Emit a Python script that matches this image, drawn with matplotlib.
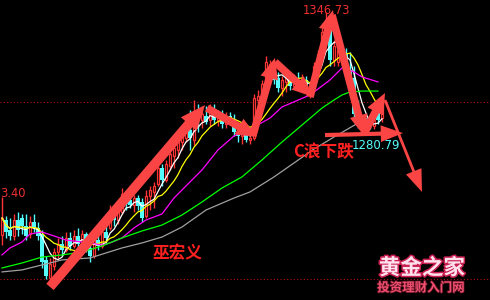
import numpy as np
import pandas as pd
import matplotlib
matplotlib.use("Agg")
import matplotlib.pyplot as plt
import matplotlib.patheffects as pe

# ---------------- Data ----------------
opens = [1222.0, 1230.4, 1224.8, 1221.5, 1230.4, 1231.5, 1227.1, 1222.6, 1229.3, 1226.0,
         1222.6, 1208.1, 1198.0, 1204.7, 1212.5, 1217.0, 1213.7, 1220.4, 1215.9, 1221.5,
         1217.0, 1222.6, 1214.8, 1210.3, 1219.2, 1215.9, 1223.7, 1226.0, 1234.9, 1230.4,
         1234.9, 1243.8, 1241.6, 1238.8, 1242.7, 1240.5, 1232.7, 1243.8, 1246.1, 1250.5,
         1259.5, 1252.8, 1260.6, 1266.2, 1269.6, 1274.0, 1276.3, 1280.7, 1275.1, 1290.8,
         1286.3, 1288.6, 1286.3, 1291.9, 1286.3, 1289.7, 1284.1, 1288.6, 1286.3, 1279.6,
         1277.4, 1278.5, 1275.1, 1276.3, 1297.5, 1297.5, 1306.4, 1308.7, 1316.5, 1309.8,
         1304.2, 1307.6, 1309.8, 1305.3, 1308.7, 1306.4, 1308.7, 1300.9, 1305.3, 1316.5,
         1323.2, 1335.5, 1341.1, 1319.9, 1318.7, 1324.3, 1323.2, 1314.3, 1309.8, 1290.8,
         1284.1, 1281.9, 1284.1, 1283.0, 1290.8, 1287.4]
highs = [1243.4, 1232.7, 1231.5, 1233.8, 1234.9, 1233.8, 1233.8, 1232.7, 1233.8, 1229.3,
         1224.8, 1210.3, 1209.2, 1214.8, 1220.4, 1221.5, 1223.7, 1223.7, 1224.8, 1226.0,
         1224.8, 1223.7, 1219.2, 1221.5, 1223.7, 1226.0, 1228.2, 1238.8, 1238.8, 1237.1,
         1248.3, 1247.2, 1246.1, 1244.4, 1244.4, 1242.7, 1247.2, 1249.4, 1251.7, 1261.7,
         1261.7, 1264.0, 1269.6, 1272.9, 1275.1, 1280.7, 1283.0, 1291.9, 1297.5, 1295.3,
         1293.0, 1294.2, 1295.3, 1295.3, 1291.9, 1291.9, 1290.8, 1290.8, 1289.7, 1283.0,
         1280.7, 1281.9, 1280.7, 1300.9, 1303.1, 1308.7, 1322.1, 1319.9, 1318.7, 1313.2,
         1310.9, 1312.0, 1313.2, 1312.0, 1313.2, 1312.0, 1310.9, 1307.6, 1318.7, 1325.5,
         1337.8, 1346.73, 1345.6, 1331.0, 1328.8, 1327.7, 1326.6, 1324.3, 1316.5, 1297.5,
         1288.6, 1287.4, 1287.4, 1288.6, 1293.0, 1296.4]
lows = [1216.4, 1220.4, 1219.2, 1219.2, 1221.5, 1222.6, 1219.2, 1220.4, 1223.7, 1219.2,
        1203.6, 1197.4, 1195.8, 1202.5, 1209.2, 1210.3, 1212.5, 1213.7, 1214.8, 1214.8,
        1215.9, 1212.5, 1206.9, 1209.2, 1213.7, 1214.8, 1217.0, 1224.8, 1227.1, 1228.2,
        1233.8, 1236.0, 1237.1, 1234.9, 1236.0, 1229.3, 1231.5, 1236.0, 1237.1, 1249.4,
        1249.4, 1251.7, 1258.4, 1259.5, 1265.1, 1269.6, 1274.0, 1269.6, 1272.3, 1279.6,
        1281.9, 1284.1, 1283.0, 1284.1, 1283.0, 1281.9, 1281.9, 1284.1, 1277.4, 1274.0,
        1272.9, 1274.0, 1272.9, 1275.1, 1290.8, 1295.3, 1305.3, 1306.4, 1306.4, 1302.0,
        1299.7, 1302.0, 1303.1, 1303.1, 1304.2, 1303.1, 1302.0, 1298.6, 1304.2, 1314.3,
        1321.0, 1331.0, 1316.5, 1316.5, 1316.5, 1318.7, 1312.0, 1307.6, 1286.3, 1281.9,
        1280.79, 1281.0, 1281.2, 1281.4, 1284.1, 1285.2]
closes = [1231.5, 1223.7, 1221.5, 1230.4, 1224.8, 1227.1, 1221.5, 1229.3, 1226.0, 1221.5,
          1206.9, 1199.1, 1205.8, 1212.5, 1217.0, 1213.7, 1220.4, 1215.9, 1221.5, 1217.0,
          1222.6, 1214.8, 1210.3, 1219.2, 1215.9, 1223.7, 1220.4, 1236.0, 1230.4, 1234.9,
          1245.0, 1239.4, 1238.8, 1242.7, 1238.3, 1231.5, 1243.8, 1247.2, 1249.4, 1259.5,
          1252.8, 1261.7, 1267.3, 1270.7, 1274.0, 1277.4, 1280.7, 1276.3, 1290.8, 1286.3,
          1289.7, 1285.2, 1291.9, 1286.3, 1289.7, 1284.1, 1288.6, 1286.3, 1279.6, 1277.4,
          1278.5, 1275.1, 1276.3, 1298.6, 1299.7, 1306.4, 1318.7, 1317.6, 1308.7, 1304.2,
          1308.7, 1309.8, 1305.3, 1309.8, 1306.4, 1308.7, 1304.2, 1305.3, 1316.5, 1323.2,
          1335.5, 1342.2, 1319.9, 1327.7, 1325.5, 1322.1, 1314.3, 1309.8, 1289.7, 1284.1,
          1281.9, 1285.2, 1283.0, 1286.3, 1286.3, 1294.2]

# slower moving averages (their history starts before the visible window)
ma20_idx = [0, 2, 5, 7, 10, 13, 16, 20, 22, 25, 27, 30, 33, 36, 40, 43, 47, 50, 54, 58,
            63, 67, 70, 77, 82, 85, 88, 90, 94]
ma20_val = [1210.9, 1214.8, 1218.1, 1222.6, 1223.7, 1221.5, 1219.2, 1218.1, 1217.6, 1216.4,
            1217.6, 1220.4, 1226.0, 1230.4, 1233.8, 1242.7, 1251.7, 1258.4, 1269.6, 1277.4,
            1282.4, 1287.4, 1293.6, 1300.3, 1308.7, 1315.4, 1313.2, 1310.4, 1307.6]
ma60_idx = [0, 5, 10, 15, 20, 25, 30, 35, 40, 45, 50, 55, 60, 65, 70, 75, 80, 83, 85, 87,
            90, 94]
ma60_val = [1203.6, 1206.4, 1209.7, 1210.9, 1212.5, 1215.9, 1220.4, 1224.3, 1227.6, 1233.2,
            1240.5, 1248.3, 1254.5, 1264.0, 1274.0, 1283.5, 1293.0, 1297.5, 1300.3, 1302.0,
            1302.5, 1302.5]
ma120_idx = [0, 5, 10, 15, 22, 30, 35, 40, 45, 51, 58, 62, 68, 73, 78, 83, 89, 92, 94]
ma120_val = [1201.4, 1202.5, 1205.3, 1208.1, 1209.2, 1214.8, 1217.6, 1220.9, 1226.5, 1236.0,
             1242.7, 1246.1, 1254.5, 1262.3, 1270.1, 1276.8, 1284.6, 1288.0, 1289.1]

ref_lines = [1296.4, 1197.4]

# hand-drawn arrows: (start index, start price) -> (tip index, tip price), tail/head sizes in pt
arrows = [
    ((12.0, 1193.0), (50.75, 1294.7), 7, 15, 18),
    ((51.25, 1293.0), (63.75, 1276.8), 5.5, 13, 15),
    ((62.75, 1277.9), (68.25, 1321.0), 5.5, 13, 15),
    ((68.25, 1318.7), (77.75, 1299.2), 5.5, 13, 15),
    ((77.0, 1299.2), (82.75, 1347.8), 5.5, 13, 15),
    ((82.5, 1345.0), (90.5, 1277.5), 5.5, 13, 15),
    ((90.75, 1279.6), (95.75, 1301.4), 5.5, 13, 15),
    ((80.75, 1277.9), (100.25, 1279.0), 3, 12, 16),
    ((95.75, 1297.5), (105.0, 1246.1), 2, 12, 16),
]

RED = "#ff3434"
CYAN = "#54fcfc"
ARROW = "#fb4545"
CJK = ["Noto Sans CJK SC", "DejaVu Sans"]

# ---------------- Plot ----------------
fig = plt.figure(figsize=(4.9, 3.0), dpi=100, facecolor="black")
ax = fig.add_axes([0, 0, 1, 1])
ax.set_axis_off()
ax.set_xlim(-0.5, 122)
ax.set_ylim(1185.7, 1353.4)

o = np.array(opens)
h = np.array(highs)
l = np.array(lows)
c = np.array(closes)
x = np.arange(len(c))
up = c >= o
dn = ~up

for y in ref_lines:
    ax.axhline(y, color="#b01010", lw=0.8, ls=(0, (1, 2)), zorder=1)

# up candles: hollow red, down candles: solid cyan
ax.vlines(x[up], c[up], h[up], color=RED, lw=1.0, zorder=2)
ax.vlines(x[up], l[up], o[up], color=RED, lw=1.0, zorder=2)
ax.bar(x[up], c[up] - o[up], bottom=o[up], width=0.65, facecolor="black",
       edgecolor=RED, linewidth=0.9, zorder=2)
ax.vlines(x[dn], l[dn], h[dn], color=CYAN, lw=1.0, zorder=2)
ax.bar(x[dn], o[dn] - c[dn], bottom=c[dn], width=0.8, color=CYAN, lw=0, zorder=2)

# moving averages
close_s = pd.Series(closes)
ax.plot(x, close_s.rolling(5, min_periods=1).mean(), color="white", lw=0.9, zorder=3)
ax.plot(x, close_s.rolling(10, min_periods=1).mean(), color="#ffff00", lw=0.9, zorder=3)
ax.plot(ma20_idx, ma20_val, color="#ff00ff", lw=0.9, zorder=3)
ax.plot(ma60_idx, ma60_val, color="#00ff00", lw=0.9, zorder=3)
ax.plot(ma120_idx, ma120_val, color="#a0a0a0", lw=0.9, zorder=3)

for start, tip, tw, hw, hl in arrows:
    ax.annotate("", xy=tip, xytext=start, zorder=5,
                arrowprops=dict(arrowstyle=f"simple,tail_width={tw},head_width={hw},head_length={hl}",
                                color=ARROW, mutation_scale=1, shrinkA=0, shrinkB=0, lw=0))

# labels
ax.text(81.25, 1347.3, "1346.73", color="#f03030", fontsize=8.3, ha="center", va="center", zorder=6)
ax.text(-0.5, 1245.5, "3.40", color="#f03030", fontsize=8.3, ha="left", va="center", zorder=6)
ax.text(87.5, 1272.3, "1280.79", color=CYAN, fontsize=8.5, ha="left", va="center", zorder=6)
ax.text(72.75, 1268.4, "C浪下跌", color="#ff2020", fontsize=12, family=CJK,
        fontweight="bold", ha="left", va="center", zorder=6)
ax.text(37.75, 1212.0, "巫宏义", color="#ff2020", fontsize=12, family=CJK,
        fontweight="bold", ha="left", va="center", zorder=6)

# watermark
ax.text(0.861, 0.107, "黄金之家", transform=ax.transAxes, color="#ffe2ee", fontsize=15.5,
        family=CJK, fontweight="bold", ha="center", va="center", zorder=7,
        path_effects=[pe.withStroke(linewidth=2.2, foreground="#c81e50")])
ax.text(0.859, 0.04, "投资理财入门网", transform=ax.transAxes, color="#f25070", fontsize=9,
        family=CJK, fontweight="bold", ha="center", va="center", zorder=7,
        path_effects=[pe.withStroke(linewidth=1.2, foreground="#5a1020")])

fig.savefig("out.png", dpi=100, facecolor="black")
